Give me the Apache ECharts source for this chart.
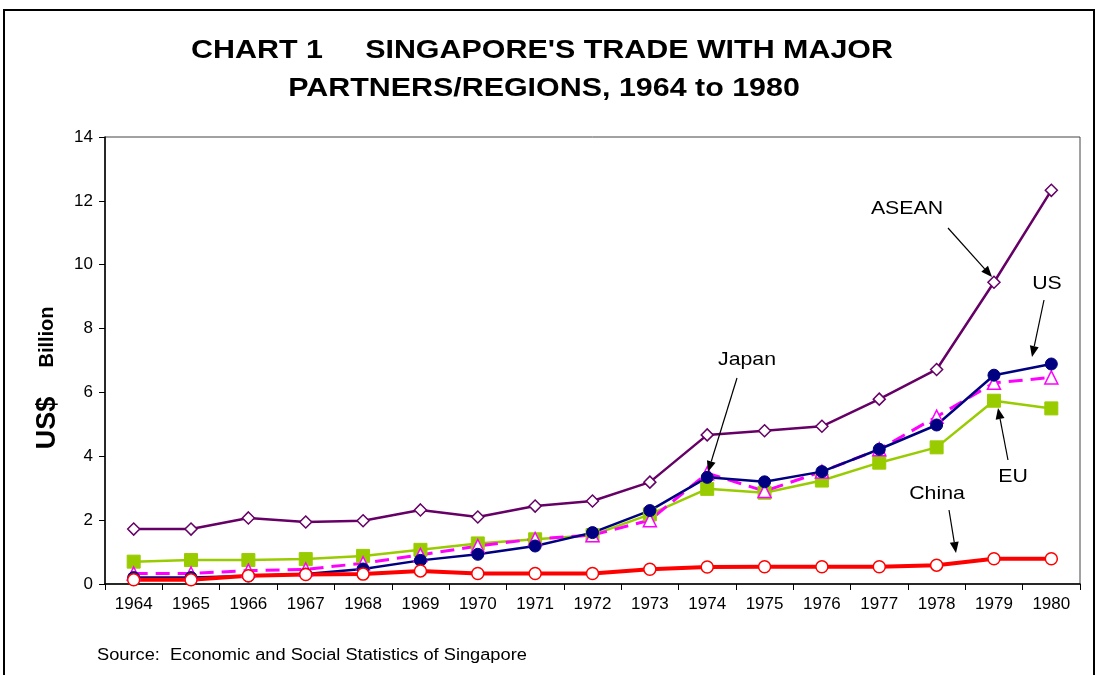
<!DOCTYPE html>
<html>
<head>
<meta charset="utf-8">
<script src="https://cdn.jsdelivr.net/npm/echarts@6/dist/echarts.min.js"></script>
<style>
  html, body { margin: 0; padding: 0; background: #fff; }
  #main { width: 1099px; height: 675px; }
</style>
</head>
<body>
<div id="main"></div>
<script>
const years = ['1964','1965','1966','1967','1968','1969','1970','1971','1972',
  '1973','1974','1975','1976','1977','1978','1979','1980'];
const asean = [1.72, 1.72, 2.07, 1.94, 1.98, 2.32, 2.10, 2.44, 2.60, 3.19, 4.67, 4.80, 4.94, 5.79, 6.72, 9.45, 12.33];
const us    = [0.20, 0.20, 0.25, 0.31, 0.47, 0.74, 0.93, 1.19, 1.61, 2.30, 3.34, 3.20, 3.52, 4.22, 4.98, 6.54, 6.89];
const japan = [0.33, 0.33, 0.42, 0.46, 0.65, 0.91, 1.19, 1.41, 1.53, 2.00, 3.47, 2.91, 3.52, 4.22, 5.24, 6.30, 6.47];
const eu    = [0.70, 0.75, 0.75, 0.78, 0.88, 1.07, 1.27, 1.40, 1.53, 2.18, 2.98, 2.86, 3.24, 3.80, 4.28, 5.74, 5.50];
const china = [0.13, 0.13, 0.26, 0.30, 0.31, 0.41, 0.33, 0.33, 0.33, 0.46, 0.53, 0.54, 0.54, 0.54, 0.59, 0.79, 0.79];

const font = 'Arial, "Liberation Sans", sans-serif';

// arrow = line + small filled head
function arrow(x1, y1, x2, y2) {
  const a = Math.atan2(y2 - y1, x2 - x1);
  const len = 11, w = 4.5;
  const bx = x2 - len * Math.cos(a), by = y2 - len * Math.sin(a);
  const px = -Math.sin(a) * w, py = Math.cos(a) * w;
  return [
    { type: 'line', shape: { x1: x1, y1: y1, x2: bx, y2: by }, style: { stroke: '#000', lineWidth: 1.2 }, z: 100 },
    { type: 'polygon', shape: { points: [[x2, y2], [bx + px, by + py], [bx - px, by - py]] }, style: { fill: '#000' }, z: 100 }
  ];
}
// text that is a bit wider than the font, as in the picture
function txt(x, y, t, f, align, sx) {
  return { type: 'text', x: x, y: y, z: 100, scaleX: sx || 1.12,
    style: { text: t, font: f, fill: '#000', textAlign: align || 'center', textVerticalAlign: 'middle' } };
}

const chart = echarts.init(document.getElementById('main'));
chart.setOption({
  animation: false,
  backgroundColor: '#fff',
  grid: { left: 105, right: 19, top: 137, bottom: 91, show: true, borderColor: '#444', borderWidth: 1 },
  xAxis: {
    type: 'category', data: years, boundaryGap: true,
    axisLine: { lineStyle: { color: '#000', width: 1.5 } },
    axisTick: { show: true, length: 6, lineStyle: { color: '#000' } },
    axisLabel: { color: '#000', fontFamily: font, fontSize: 17, margin: 12 }
  },
  yAxis: {
    type: 'value', min: 0, max: 14, interval: 2,
    splitLine: { show: false },
    axisLine: { show: true, lineStyle: { color: '#000', width: 1.5 } },
    axisTick: { show: true, length: 6, lineStyle: { color: '#000' } },
    axisLabel: { color: '#000', fontFamily: font, fontSize: 17, margin: 12 }
  },
  series: [
    { name: 'ASEAN', type: 'line', data: asean, symbol: 'diamond', symbolSize: 12,
      lineStyle: { color: '#660066', width: 2.5 },
      itemStyle: { color: '#fff', borderColor: '#660066', borderWidth: 1.5 } },
    { name: 'EU', type: 'line', data: eu, symbol: 'rect', symbolSize: 13,
      lineStyle: { color: '#99CC00', width: 2.5 },
      itemStyle: { color: '#99CC00', borderColor: '#99CC00' } },
    { name: 'Japan', type: 'line', data: japan, symbol: 'triangle', symbolSize: 13,
      lineStyle: { color: '#FF00FF', width: 3, type: [14, 8] },
      itemStyle: { color: '#fff', borderColor: '#FF00FF', borderWidth: 1.5 } },
    { name: 'US', type: 'line', data: us, symbol: 'circle', symbolSize: 12,
      lineStyle: { color: '#000080', width: 2.5 },
      itemStyle: { color: '#000080', borderColor: '#000080' } },
    { name: 'China', type: 'line', data: china, symbol: 'circle', symbolSize: 12,
      lineStyle: { color: '#FF0000', width: 4 },
      itemStyle: { color: '#fff', borderColor: '#FF0000', borderWidth: 1.5 } }
  ],
  graphic: [
    // outer frame
    { type: 'rect', shape: { x: 4, y: 10, width: 1090, height: 700 },
      style: { fill: null, stroke: '#000', lineWidth: 2 }, z: 0, silent: true },
    txt(542, 51, "CHART 1     SINGAPORE'S TRADE WITH MAJOR", 'bold 26px ' + font, 'center', 1.17),
    txt(544, 89, 'PARTNERS/REGIONS, 1964 to 1980', 'bold 26px ' + font, 'center', 1.17),
    { type: 'text', x: 48, y: 423, rotation: Math.PI / 2, z: 100,
      style: { text: 'US$', font: 'bold 27px ' + font, fill: '#000', textAlign: 'center', textVerticalAlign: 'middle' } },
    { type: 'text', x: 47, y: 337, rotation: Math.PI / 2, z: 100,
      style: { text: 'Billion', font: 'bold 20px ' + font, fill: '#000', textAlign: 'center', textVerticalAlign: 'middle' } },
    txt(97, 656, 'Source:  Economic and Social Statistics of Singapore', '16px ' + font, 'left', 1.14),
    txt(907, 209, 'ASEAN', '19px ' + font),
    txt(1047, 284, 'US', '19px ' + font),
    txt(747, 360, 'Japan', '19px ' + font),
    txt(1013, 477, 'EU', '19px ' + font),
    txt(937, 494, 'China', '19px ' + font),
    ...arrow(948, 228, 992, 277),
    ...arrow(1044, 300, 1032, 357),
    ...arrow(737, 378, 708, 472),
    ...arrow(1008, 460, 998, 408),
    ...arrow(949, 510, 956, 553)
  ]
});
</script>
</body>
</html>
